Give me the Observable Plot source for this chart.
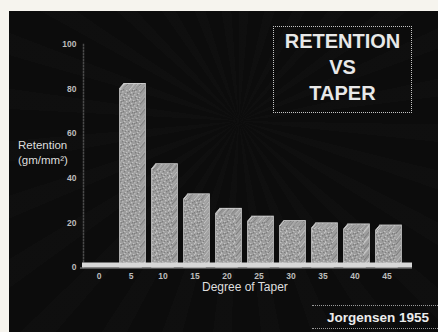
<!DOCTYPE html>
<html>
<head>
<meta charset="utf-8">
<script src="https://cdn.jsdelivr.net/npm/d3@7"></script>
<script src="https://cdn.jsdelivr.net/npm/@observablehq/plot@0.6"></script>
<style>
  html, body { margin: 0; padding: 0; }
  body { width: 438px; height: 332px; background: #f6f4ee; position: relative; overflow: hidden;
         font-family: "Liberation Sans", Arial, Helvetica, sans-serif; }
  #slide { position: absolute; left: 9px; top: 11px; width: 429px; height: 321px;
           background:
             repeating-conic-gradient(from 0deg at 230px 110px, rgba(255,255,255,0.01) 0deg 5deg, rgba(0,0,0,0) 5deg 13deg),
             #0c0c0c; }
  #chart { position: absolute; left: 0; top: 0; }
  .title-box { position: absolute; left: 273px; top: 26px; width: 137px; height: 84px;
               border: 1px dotted #c4c4c4; color: #e8e8e8; font-weight: bold; font-size: 20px;
               text-align: center; line-height: 26px; padding-top: 1px; box-sizing: content-box; }
  .source-box { position: absolute; left: 312px; top: 305px; width: 130px; height: 24px;
                border-top: 1px dotted #9a9a9a; border-bottom: 1px dotted #9a9a9a;
                color: #ececec; font-weight: bold; font-size: 13.5px; line-height: 23px; padding-left: 15px; box-sizing: border-box; }
  .ylabel { position: absolute; left: 18px; top: 138px; color: #dedede; font-size: 11.5px; line-height: 15px; }
  .xlabel { position: absolute; left: 202px; top: 280px; color: #dedede; font-size: 12px; }
</style>
</head>
<body>
<div id="slide"></div>
<svg width="0" height="0" style="position:absolute;left:0;top:0">
  <defs>
    <!-- speckled print texture for the bar faces -->
    <pattern id="speckle" patternUnits="userSpaceOnUse" width="13" height="11">
      <rect width="13" height="11" fill="#9d9d9d"/>
      <g fill="#c2c2c2">
        <rect x="0" y="0" width="1.4" height="1.4"/><rect x="3" y="1" width="1.4" height="1.4"/>
        <rect x="7" y="0" width="1.4" height="1.4"/><rect x="5" y="3" width="1.4" height="1.4"/>
        <rect x="1" y="4" width="1.4" height="1.4"/><rect x="8" y="5" width="1.4" height="1.4"/>
        <rect x="4" y="6" width="1.4" height="1.4"/><rect x="2" y="8" width="1.4" height="1.4"/>
        <rect x="6" y="8" width="1.4" height="1.4"/><rect x="9" y="2" width="1.4" height="1.4"/>
        <rect x="11" y="7" width="1.4" height="1.4"/><rect x="0" y="10" width="1.4" height="1"/>
        <rect x="12" y="1" width="1" height="1.4"/><rect x="9" y="9" width="1.4" height="1.4"/>
      </g>
      <g fill="#7e7e7e">
        <rect x="2" y="2" width="1.4" height="1.4"/><rect x="6" y="1" width="1.4" height="1.4"/>
        <rect x="10" y="4" width="1.4" height="1.4"/><rect x="0" y="6" width="1.4" height="1.4"/>
        <rect x="3" y="5" width="1.4" height="1.4"/><rect x="7" y="6" width="1.4" height="1.4"/>
        <rect x="5" y="9" width="1.4" height="1.4"/><rect x="1" y="9" width="1.4" height="1.4"/>
        <rect x="11" y="10" width="1.4" height="1"/><rect x="4" y="2" width="1.4" height="1.4"/>
        <rect x="8" y="10" width="1.4" height="1"/><rect x="12" y="3" width="1" height="1.4"/>
      </g>
    </pattern>
  </defs>
</svg>
<div id="chart"></div>
<div class="title-box">RETENTION<br>VS<br>TAPER</div>
<div class="ylabel">Retention<br>(gm/mm²)</div>
<div class="xlabel">Degree of Taper</div>
<div class="source-box">Jorgensen 1955</div>
<script>
// Degree of taper (x categories) and retention (gm/mm²); no bar at 0°
const taper = ["0", "5", "10", "15", "20", "25", "30", "35", "40", "45"];
const retention = [null, 80, 44, 30.5, 24, 20.5, 18.5, 17.5, 17, 16.5];
const yTicks = [0, 20, 40, 60, 80, 100];

const rows = taper
  .map((t, i) => ({taper: t, retention: retention[i]}))
  .filter(d => d.retention != null);

// Extruded look: each bar is repeated a few pixels up and to the right.
// A light outlined pass goes underneath, then a filled pass on top,
// so only the outer edge of the block stays bright.
const depth = [4, 3, 2, 1, 0];
const outlinePass = depth.map(k =>
  Plot.barY(rows, {x: "taper", y: "retention", dx: k, dy: -k * 1.2,
                   fill: "#cfcfcf", stroke: "#d6d6d6", strokeWidth: 1.6})
);
const fillPass = depth.map(k =>
  Plot.barY(rows, {x: "taper", y: "retention", dx: k, dy: -k * 1.2,
                   fill: "url(#speckle)"})
);

const chart = Plot.plot({
  width: 438,
  height: 332,
  marginLeft: 74,
  marginRight: 26,
  marginTop: 44,
  marginBottom: 65,
  style: {background: "transparent", fontFamily: "Liberation Sans, Arial, sans-serif"},
  x: {type: "band", domain: taper, padding: 0.33, axis: null},
  y: {domain: [0, 100], axis: null},
  marks: [
    Plot.frame({anchor: "left", stroke: "#4a4a4a", strokeDasharray: "1,2", strokeWidth: 1.5, dx: 9}),
    ...outlinePass,
    ...fillPass,
    Plot.ruleY([0], {stroke: "#d8d8d8", strokeWidth: 5, dy: -2.5, insetLeft: 8}),
    Plot.ruleY([0], {stroke: "#9a9a9a", strokeWidth: 1, dy: 0.5, insetLeft: 6}),
    Plot.text(yTicks, {y: d => d, text: d => String(d), frameAnchor: "left", textAnchor: "end",
                       dx: 2, fill: "#bdbdbd", fontSize: 8.5, fontWeight: "bold"}),
    Plot.text(taper, {x: d => d, text: d => d, frameAnchor: "bottom", dy: 11,
                      fill: "#bdbdbd", fontSize: 8.5, fontWeight: "bold"})
  ]
});

document.getElementById("chart").appendChild(chart);
</script>
</body>
</html>
